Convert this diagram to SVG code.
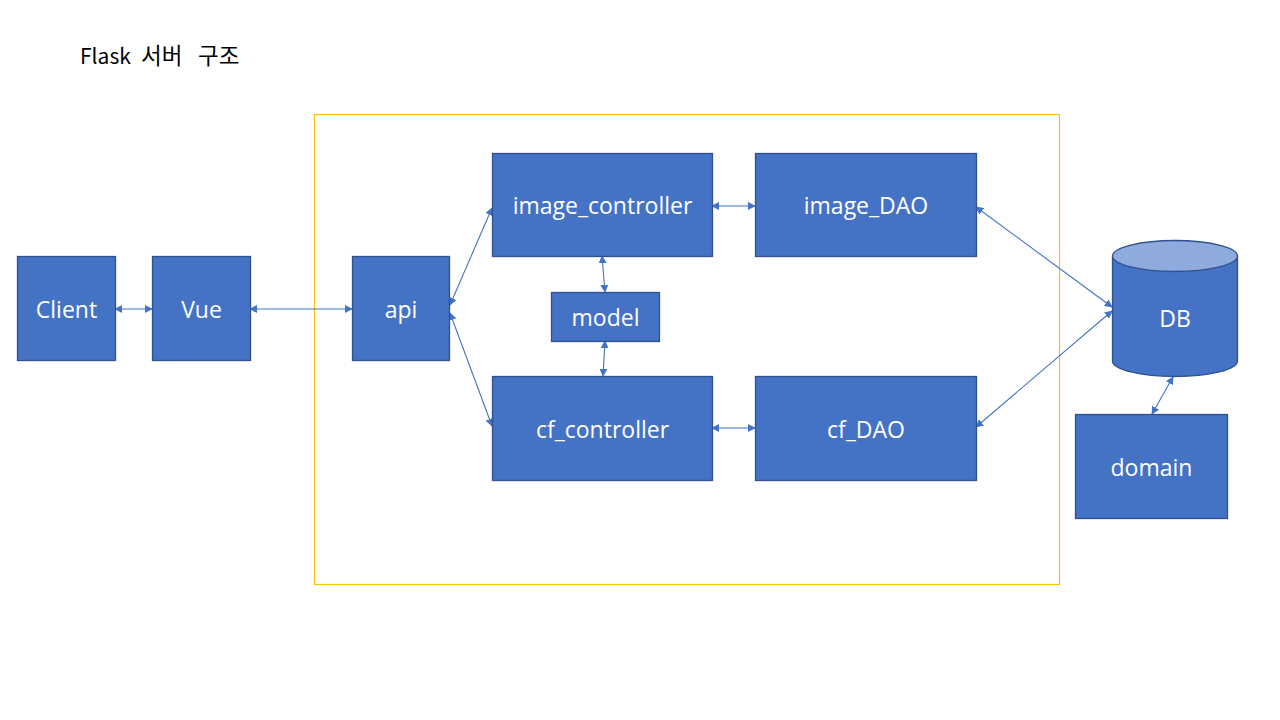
<svg xmlns="http://www.w3.org/2000/svg" width="1280" height="720" viewBox="0 0 1280 720">
<style>
.n{fill:#4472C4;stroke:#2F528F;stroke-width:1.3}
.t{font-family:"Open Sans","Noto Sans","Noto Sans CJK KR",sans-serif;font-size:23px;fill:#fff;text-anchor:middle;dominant-baseline:central}
.c{stroke:#4472C4;stroke-width:1.1;fill:none;marker-start:url(#a);marker-end:url(#a)}
</style>
<defs>
<marker id="a" viewBox="0 0 10 10" refX="9" refY="5" markerWidth="8" markerHeight="8" markerUnits="userSpaceOnUse" orient="auto-start-reverse">
<path d="M0,0 L10,5 L0,10 z" fill="#4472C4"/>
</marker>
</defs>
<rect width="1280" height="720" fill="#fff"/>
<text x="80" y="64" style="font-family:'Noto Sans CJK KR','Noto Sans',sans-serif;font-size:21px;fill:#000">Flask <tspan x="141" style="font-size:22.5px">서버</tspan> <tspan x="198" style="font-size:22.5px">구조</tspan></text>
<rect id="frame" x="314.5" y="114.5" width="745" height="470" fill="none" stroke="#FFC000" stroke-width="1.2"/>
<g id="connectors">
<line class="c" x1="115" y1="309" x2="152" y2="309"/>
<line class="c" x1="250" y1="309" x2="352" y2="309"/>
<line class="c" x1="450" y1="305" x2="492" y2="208"/>
<line class="c" x1="450" y1="313" x2="492" y2="426"/>
<line class="c" x1="712" y1="206" x2="755" y2="206"/>
<line class="c" x1="712" y1="428" x2="755" y2="428"/>
<line class="c" x1="602" y1="256" x2="605" y2="292"/>
<line class="c" x1="605" y1="341" x2="603" y2="376"/>
<line class="c" x1="976" y1="207" x2="1112" y2="307"/>
<line class="c" x1="976" y1="427" x2="1112" y2="311"/>
<line class="c" x1="1173" y1="377" x2="1152" y2="414"/>
</g>
<g id="client"><rect class="n" x="17.5" y="256.5" width="98" height="104"/><text class="t" x="66.5" y="309">Client</text></g>
<g id="vue"><rect class="n" x="152.5" y="256.5" width="98" height="104"/><text class="t" x="201.5" y="309">Vue</text></g>
<g id="api"><rect class="n" x="352.5" y="256.5" width="97" height="104"/><text class="t" x="401" y="309">api</text></g>
<g id="image_controller"><rect class="n" x="492.5" y="153.5" width="220" height="103"/><text class="t" x="602.5" y="205">image_controller</text></g>
<g id="image_DAO"><rect class="n" x="755.5" y="153.5" width="221" height="103"/><text class="t" x="866" y="205">image_DAO</text></g>
<g id="model"><rect class="n" x="551.5" y="292.5" width="108" height="49"/><text class="t" x="605.5" y="317">model</text></g>
<g id="cf_controller"><rect class="n" x="492.5" y="376.5" width="220" height="104"/><text class="t" x="602.5" y="429">cf_controller</text></g>
<g id="cf_DAO"><rect class="n" x="755.5" y="376.5" width="221" height="104"/><text class="t" x="866" y="429">cf_DAO</text></g>
<g id="db">
<path class="n" d="M1112.5,256 L1112.5,361 A62.5,15.5 0 0 0 1237.5,361 L1237.5,256"/>
<ellipse cx="1175" cy="256" rx="62.5" ry="15.5" fill="#8FAADC" stroke="#2F528F" stroke-width="1.3"/>
<text class="t" x="1175" y="318">DB</text>
</g>
<g id="domain"><rect class="n" x="1075.5" y="414.5" width="152" height="104"/><text class="t" x="1151.5" y="467">domain</text></g>
</svg>
